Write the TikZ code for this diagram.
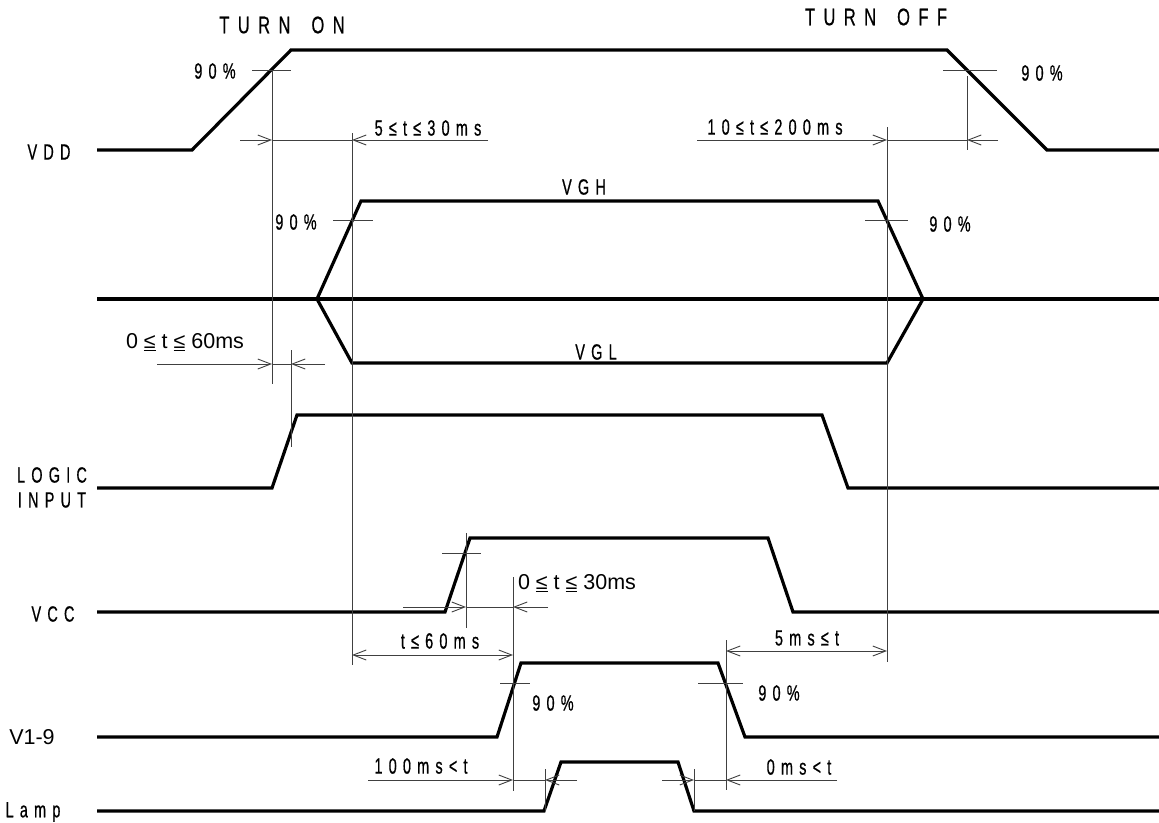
\documentclass[tikz,border=0pt]{standalone}
\usepackage{fontspec}
\setmainfont{Liberation Sans}
\newfontfamily\isofont[FakeStretch=0.66,LetterSpace=28,FakeBold=0.6]{Liberation Sans}
\newfontfamily\isobigfont[FakeStretch=0.69,LetterSpace=35,FakeBold=0.5]{Liberation Sans}
\usetikzlibrary{arrows.meta}
\tikzset{
  sig/.style={line width=3.2pt, black},
  thinl/.style={line width=0.9pt, black!75},
  barb/.style={thinl, -{Straight Barb[length=13pt,width=10pt,line width=0.9pt]}},
  barbs/.style={thinl, {Straight Barb[length=13pt,width=10pt,line width=0.9pt]}-{Straight Barb[length=13pt,width=10pt,line width=0.9pt]}},
  iso/.style={inner sep=0pt, font=\isofont\fontsize{22}{23}\selectfont},
  isobig/.style={inner sep=0pt, font=\isobigfont\fontsize{24}{25}\selectfont},
  arial/.style={inner sep=0pt, font=\fontsize{21.5}{23}\selectfont},
}
\begin{document}
\begin{tikzpicture}[x=1pt,y=-1pt]
\useasboundingbox (0,0) rectangle (1159,822);
\fill[white] (0,0) rectangle (1159,822);

% ---------- signals ----------
% VDD
\draw[sig] (97,150) -- (192,150) -- (291,50) -- (947,50) -- (1047,150) -- (1159,150);
% VGH / VGL
\draw[sig] (97,299) -- (1159,299);
\draw[sig] (317,299) -- (361,201) -- (878,201) -- (923,299) -- (887,363) -- (352,363) -- cycle;
% LOGIC INPUT
\draw[sig] (97,488) -- (272,488) -- (297,415) -- (822,415) -- (848,488) -- (1159,488);
% VCC
\draw[sig] (97,612) -- (445,612) -- (470,538) -- (768,538) -- (793,612) -- (1159,612);
% V1-9
\draw[sig] (97,737) -- (497,737) -- (521,663) -- (718,663) -- (745,737) -- (1159,737);
% Lamp
\draw[sig] (97,811) -- (544,811) -- (561,762) -- (678,762) -- (694,811) -- (1159,811);

% ---------- extension lines ----------
\coordinate (e1a) at (272,70);  \coordinate (e1b) at (272,384);
\coordinate (e2a) at (291,350); \coordinate (e2b) at (291,447);
\coordinate (e3a) at (352,133); \coordinate (e3b) at (352,665);
\coordinate (e4a) at (887,127); \coordinate (e4b) at (887,662);
\coordinate (e5a) at (967,76);  \coordinate (e5b) at (967,150);
\coordinate (e6a) at (466,533); \coordinate (e6b) at (466,628);
\coordinate (e7a) at (513,577); \coordinate (e7b) at (513,791);
\coordinate (e8a) at (726,640); \coordinate (e8b) at (726,790);
\coordinate (e9a) at (545,769); \coordinate (e9b) at (545,811);
\coordinate (e10a) at (694,769); \coordinate (e10b) at (694,811);
\foreach \i in {1,...,10} \draw[thinl] (e\i a) -- (e\i b);

% 90% ticks
\draw[thinl] (252,70) -- (291,70);
\draw[thinl] (943,70) -- (997,70);
\draw[thinl] (333,220) -- (373,220);
\draw[thinl] (865,220) -- (908,220);
\draw[thinl] (442,553) -- (481,553);
\draw[thinl] (500,683) -- (530,683);
\draw[thinl] (698,683) -- (743,683);

% ---------- dimension lines ----------
% 5<=t<=30ms
\draw[barb] (240,140) -- (272,140);
\draw[thinl] (272,140) -- (352,140);
\draw[barb] (488,140) -- (352,140);
% 10<=t<=200ms
\draw[barb] (697,140) -- (887,140);
\draw[thinl] (887,140) -- (967,140);
\draw[barb] (998,140) -- (967,140);
% 0<=t<=60ms
\draw[barb] (157,364) -- (272,364);
\draw[thinl] (272,364) -- (291,364);
\draw[barb] (325,364) -- (291,364);
% 0<=t<=30ms
\draw[barb] (403,607) -- (466,607);
\draw[thinl] (466,607) -- (513,607);
\draw[barb] (548,607) -- (513,607);
% t<=60ms
\draw[barbs] (352,655) -- (513,655);
% 5ms<=t
\draw[barbs] (726,651) -- (887,651);
% 100ms<t
\draw[barb] (368,780) -- (513,780);
\draw[thinl] (513,780) -- (545,780);
\draw[barb] (577,780) -- (545,780);
% 0ms<t
\draw[barb] (662,780) -- (694,780);
\draw[thinl] (694,780) -- (726,780);
\draw[barb] (837,780) -- (726,780);

% ---------- texts ----------
\node[isobig] (ton) at (282,25) {TURN\hspace{8pt} ON};
\node[isobig] (toff) at (876,17) {TURN\hspace{8pt} OFF};
\node[iso] (p1) at (215,71) {90\%};
\node[iso] (p2) at (1042,73) {90\%};
\node[iso] (d1) at (428,128) {5≤t≤30ms};
\node[iso] (d2) at (775,127) {10≤t≤200ms};
\node[iso] (lvdd) at (49,152) {VDD};
\node[iso] (lvgh) at (584,187) {VGH};
\node[iso] (lvgl) at (596,352) {VGL};
\node[iso] (p3) at (296,222) {90\%};
\node[iso] (p4) at (950,224) {90\%};
\node[arial] (d3) at (185,342) {0 \underline{≤} t \underline{≤} 60ms};
\node[iso] (llog) at (52,475) {LOGIC};
\node[iso] (linp) at (52,500) {INPUT};
\node[iso] (lvcc) at (53,614) {VCC};
\node[arial] (d4) at (577,583) {0 \underline{≤} t \underline{≤} 30ms};
\node[iso] (d5) at (440,641) {t≤60ms};
\node[iso] (d6) at (807,638) {5ms≤t};
\node[arial] (lv19) at (32,737) {V1-9};
\node[iso] (p5) at (553,703) {90\%};
\node[iso] (p6) at (779,693) {90\%};
\node[iso] (d7) at (421,766) {100ms<t};
\node[iso] (d8) at (799,767) {0ms<t};
\node[iso] (llamp) at (33,812) {Lamp};
\end{tikzpicture}
\end{document}
